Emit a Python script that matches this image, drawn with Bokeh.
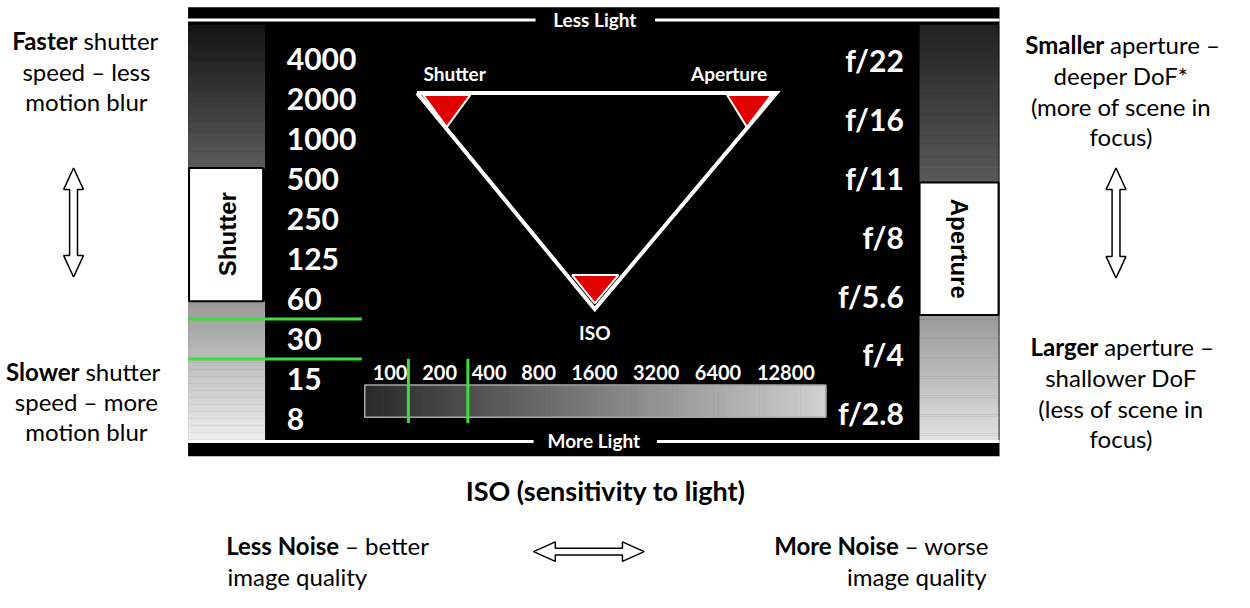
import numpy as np
from bokeh.plotting import figure
from bokeh.models import Range1d
from bokeh.core.properties import value
from bokeh.embed import file_html
from bokeh.resources import INLINE

# ---------------- data ----------------
shutter_speeds = ["4000", "2000", "1000", "500", "250", "125", "60", "30", "15", "8"]
apertures = ["f/22", "f/16", "f/11", "f/8", "f/5.6", "f/4", "f/2.8"]
iso_values = ["100", "200", "400", "800", "1600", "3200", "6400", "12800"]
selected_shutter = "30"
selected_iso = "200"
corner_labels = ["Shutter", "Aperture", "ISO"]

# ---------------- figure ----------------
W, H = 1234, 592
p = figure(width=W, height=H, x_range=Range1d(0, 1250), y_range=Range1d(608, 0),
           output_backend="svg", toolbar_location=None, min_border=0)
p.axis.visible = False
p.grid.visible = False
p.outline_line_color = None
p.background_fill_color = "white"
p.border_fill_color = "white"

INNER = "Lato"
OUTER = "Lato"


def txt(x, y, s, size, color="black", bold=False, align="left", font=OUTER, angle=0.0,
        baseline="middle"):
    p.text(x=[x], y=[y], text=[s], text_font=value(font), text_font_size=f"{size}px",
           text_font_style="bold" if bold else "normal", text_color=color,
           text_align=align, text_baseline=baseline, angle=angle)


def gradient(x0, x1, y0, y1, c0, c1, n=60, horizontal=False):
    ts = np.linspace(0, 1, n)
    cols = []
    for t in ts:
        g = int(round(c0 + (c1 - c0) * t))
        cols.append("#%02x%02x%02x" % (g, g, g))
    if horizontal:
        edges = np.linspace(x0, x1, n + 1)
        p.quad(left=edges[:-1], right=edges[1:] + 0.6, top=[y0] * n, bottom=[y1] * n,
               fill_color=cols, line_color=None)
    else:
        edges = np.linspace(y0, y1, n + 1)
        p.quad(left=[x0] * n, right=[x1] * n, top=edges[:-1], bottom=edges[1:] + 0.6,
               fill_color=cols, line_color=None)


# ---------------- black panel ----------------
p.quad(left=[190], right=[1012], top=[7], bottom=[468], fill_color="black", line_color=None)

# side gradient columns
gradient(190, 268, 25, 172, 0x15, 0x5a)
gradient(190, 268, 309, 453, 0x9a, 0xee)
gradient(931, 1011, 25, 187, 0x22, 0x5a)
gradient(931, 1011, 323, 453, 0x99, 0xe2)

# white label boxes
p.quad(left=[191], right=[266], top=[172], bottom=[309], fill_color="white",
       line_color="black", line_width=2)
p.quad(left=[931], right=[1011], top=[187], bottom=[323], fill_color="white",
       line_color="black", line_width=2)
txt(230, 240, "Shutter", 24, "black", True, "center", "Liberation Sans", np.pi / 2)
txt(971, 255, "Aperture", 24, "black", True, "center", "Liberation Sans", -np.pi / 2)

# less / more light lines
p.segment(x0=[190, 663], y0=[20, 20], x1=[542, 1012], y1=[20, 20], line_color="white", line_width=3)
p.segment(x0=[190, 665], y0=[453, 453], x1=[540, 1012], y1=[453, 453], line_color="white", line_width=3)
txt(602, 19, "Less Light", 19, "white", True, "center", INNER)
txt(601, 452, "More Light", 19, "white", True, "center", INNER)

# shutter speed column
sh_y0, sh_step = 60, 41.1
for i, s in enumerate(shutter_speeds):
    txt(290, sh_y0 + i * sh_step, s, 30, "white", True, "left", INNER)

# aperture column
ap_y0, ap_step = 61, 60.5
for i, a in enumerate(apertures):
    txt(915, ap_y0 + i * ap_step, a, 30, "white", True, "right", INNER)

# ISO scale labels
iso_x0, digit_w, gap = 376, 12.4, 13
iso_left, iso_right = [], []
cx = iso_x0
for v in iso_values:
    iso_left.append(cx)
    cx += len(v) * digit_w
    iso_right.append(cx)
    cx += gap
for v, lx, rx in zip(iso_values, iso_left, iso_right):
    txt((lx + rx) / 2, 382, v, 20, "white", True, "center", INNER)

# ISO gradient bar
gradient(369, 836, 395, 428, 0x2a, 0xd0, n=90, horizontal=True)
p.quad(left=[369], right=[836], top=[395], bottom=[428], fill_color=None,
       line_color="#a8a8a8", line_width=1.5)

# green selection markers
k = shutter_speeds.index(selected_shutter)
gy = [sh_y0 + (k - 0.5) * sh_step, sh_y0 + (k + 0.5) * sh_step]
p.segment(x0=[190, 190], y0=gy, x1=[366, 366], y1=gy, line_color="#3fdc3f", line_width=3)
j = iso_values.index(selected_iso)
gx = [iso_left[j] - gap, iso_right[j] + 10]
p.segment(x0=gx, y0=[368, 368], x1=gx, y1=[434, 434], line_color="#3fdc3f", line_width=3)

# exposure triangle
tri_x = [422, 786, 602, 422]
tri_y = [95, 95, 317, 95]
p.line(tri_x, tri_y, line_color="white", line_width=4, line_join="miter")
p.patches(xs=[[428, 476, 452], [736, 781, 756], [579, 626, 602]],
          ys=[[97, 97, 130], [97, 97, 130], [282, 282, 311]],
          fill_color="#e00000", line_color="white", line_width=2)
txt(460, 75, corner_labels[0], 19, "white", True, "center", INNER)
txt(738, 75, corner_labels[1], 19, "white", True, "center", INNER)
txt(602, 341, corner_labels[2], 19, "white", True, "center", INNER)


# ---------------- arrows ----------------
def v_arrow(cx, y0, y1, hw=10, sw=4, hl=22):
    xs = [cx, cx + hw, cx + sw, cx + sw, cx + hw, cx, cx - hw, cx - sw, cx - sw, cx - hw]
    ys = [y0, y0 + hl, y0 + hl, y1 - hl, y1 - hl, y1, y1 - hl, y1 - hl, y0 + hl, y0 + hl]
    p.patch(xs, ys, fill_color="white", line_color="black", line_width=1.5)


def h_arrow(cy, x0, x1, hh=10, sh=3.5, hl=22):
    xs = [x0, x0 + hl, x0 + hl, x1 - hl, x1 - hl, x1, x1 - hl, x1 - hl, x0 + hl, x0 + hl]
    ys = [cy, cy - hh, cy - sh, cy - sh, cy - hh, cy, cy + hh, cy + sh, cy + sh, cy + hh]
    p.patch(xs, ys, fill_color="white", line_color="black", line_width=1.5)


v_arrow(74, 172, 284)
v_arrow(1130, 172, 285)
h_arrow(566, 540, 652)

# ---------------- outer annotations ----------------
FS = 24
SP = 6  # gap between bold and regular part of a line
# left top
txt(78, 41, "Faster", FS, "black", True, "right")
txt(78 + SP, 41, "shutter", FS, "black", False, "left")
txt(87, 73, "speed – less", FS, "black", False, "center")
txt(87, 104, "motion blur", FS, "black", False, "center")
# left bottom
txt(80, 381, "Slower", FS, "black", True, "right")
txt(80 + SP, 381, "shutter", FS, "black", False, "left")
txt(87, 412, "speed – more", FS, "black", False, "center")
txt(87, 443, "motion blur", FS, "black", False, "center")
# right top
txt(1118, 45, "Smaller", FS, "black", True, "right")
txt(1118 + SP, 45, "aperture –", FS, "black", False, "left")
txt(1135, 77, "deeper DoF*", FS, "black", False, "center")
txt(1135, 109, "(more of scene in", FS, "black", False, "center")
txt(1135, 140, "focus)", FS, "black", False, "center")
# right bottom
txt(1112, 355, "Larger", FS, "black", True, "right")
txt(1112 + SP, 355, "aperture –", FS, "black", False, "left")
txt(1135, 387, "shallower DoF", FS, "black", False, "center")
txt(1135, 419, "(less of scene in", FS, "black", False, "center")
txt(1135, 450, "focus)", FS, "black", False, "center")
# bottom
txt(613, 503, "ISO (sensitivity to light)", 27, "black", True, "center")
txt(343, 560, "Less Noise", FS, "black", True, "right")
txt(343 + SP, 560, "– better", FS, "black", False, "left")
txt(230, 592, "image quality", FS, "black", False, "left")
txt(910, 560, "More Noise", FS, "black", True, "right")
txt(910 + SP, 560, "– worse", FS, "black", False, "left")
txt(999, 592, "image quality", FS, "black", False, "right")

open("out.html", "w").write(file_html(p, INLINE))
